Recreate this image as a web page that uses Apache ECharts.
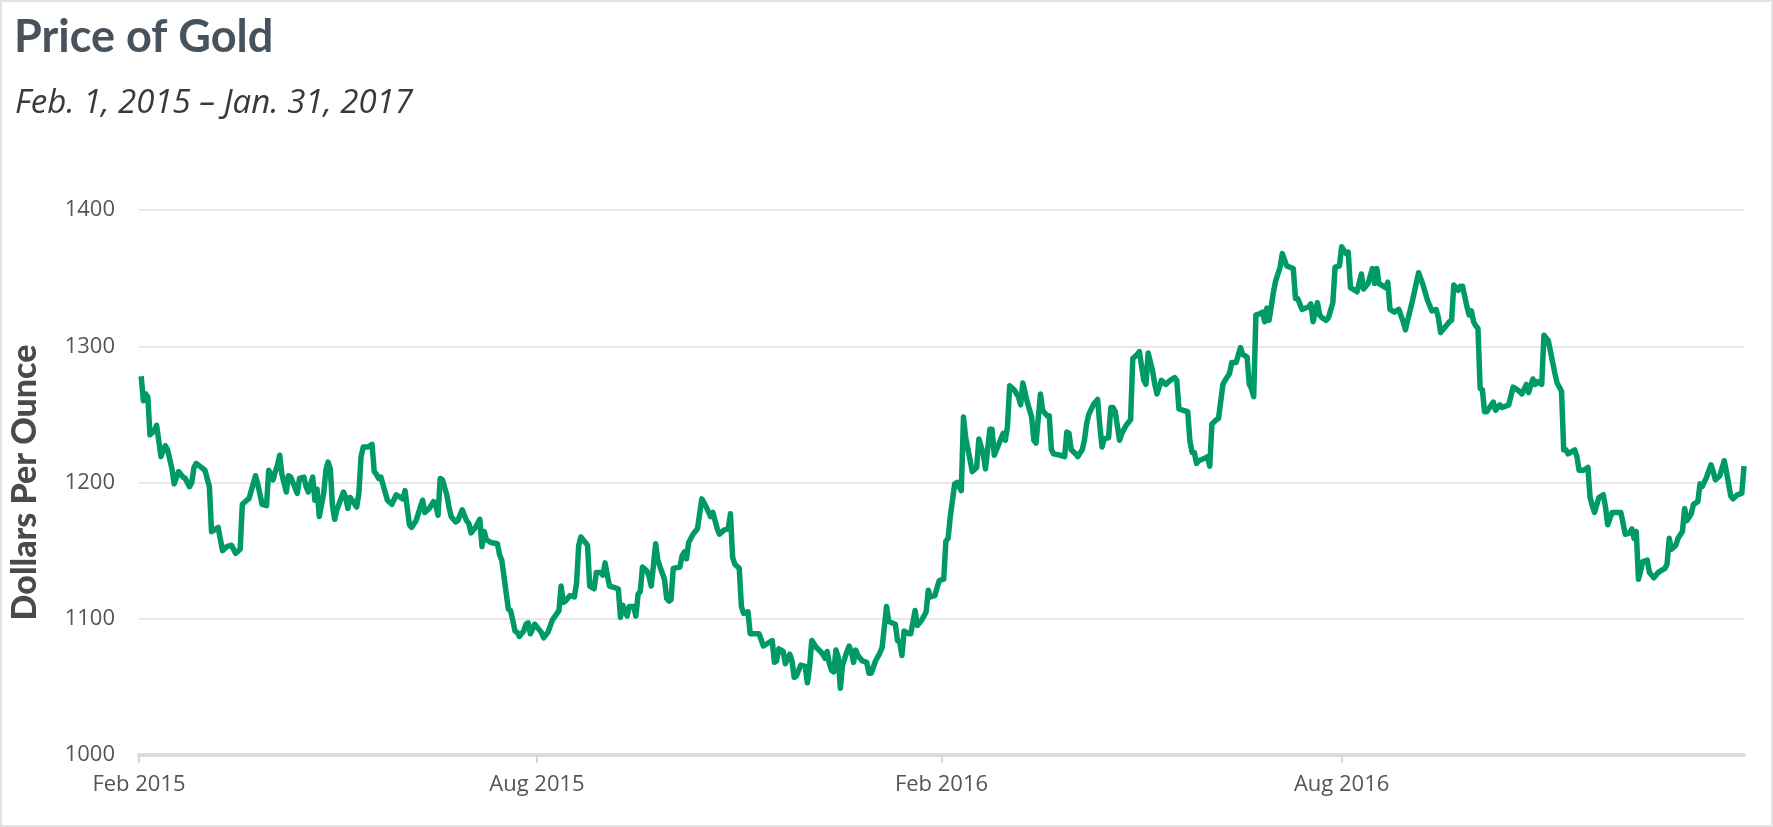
<!DOCTYPE html>
<html>
<head>
<meta charset="utf-8">
<title>Price of Gold</title>
<script src="https://cdn.jsdelivr.net/npm/echarts@6/dist/echarts.min.js"></script>
<style>
  html, body { margin: 0; padding: 0; background: #fff; }
  #wrap { position: relative; width: 1773px; height: 827px; }
  #chart { width: 1773px; height: 827px; }
  #frame { position: absolute; left: 0; top: 0; right: 0; bottom: 0; border: 2px solid #e2e2e2; pointer-events: none; }
</style>
</head>
<body>
<div id="wrap"><div id="chart"></div><div id="frame"></div></div>
<script>
// 金价数据，按半年分段（日期 / 美元每盎司）
var datesH1 = ['2015-02-02','2015-02-03','2015-02-04','2015-02-05','2015-02-06','2015-02-08','2015-02-09','2015-02-11','2015-02-12','2015-02-13',
  '2015-02-14','2015-02-16','2015-02-17','2015-02-19','2015-02-21','2015-02-22','2015-02-24','2015-02-25','2015-02-26','2015-02-27',
  '2015-03-03','2015-03-05','2015-03-06','2015-03-08','2015-03-09','2015-03-11','2015-03-13','2015-03-15','2015-03-17','2015-03-19',
  '2015-03-20','2015-03-22','2015-03-23','2015-03-26','2015-03-27','2015-03-29','2015-03-31','2015-04-01','2015-04-03','2015-04-04',
  '2015-04-05','2015-04-06','2015-04-07','2015-04-09','2015-04-10','2015-04-11','2015-04-12','2015-04-14','2015-04-15','2015-04-17',
  '2015-04-18','2015-04-19','2015-04-21','2015-04-22','2015-04-23','2015-04-24','2015-04-26','2015-04-27','2015-04-28','2015-04-29',
  '2015-04-30','2015-05-01','2015-05-02','2015-05-05','2015-05-06','2015-05-07','2015-05-08','2015-05-09','2015-05-11','2015-05-12',
  '2015-05-13','2015-05-14','2015-05-16','2015-05-18','2015-05-19','2015-05-20','2015-05-21','2015-05-22','2015-05-25','2015-05-27',
  '2015-05-29','2015-06-01','2015-06-02','2015-06-04','2015-06-05','2015-06-07','2015-06-08','2015-06-10','2015-06-11','2015-06-13',
  '2015-06-15','2015-06-16','2015-06-17','2015-06-18','2015-06-19','2015-06-21','2015-06-22','2015-06-23','2015-06-25','2015-06-26',
  '2015-06-28','2015-06-30','2015-07-01','2015-07-02','2015-07-04','2015-07-06','2015-07-07','2015-07-08','2015-07-09','2015-07-11',
  '2015-07-14','2015-07-15','2015-07-16','2015-07-19','2015-07-20','2015-07-21','2015-07-22','2015-07-23','2015-07-24','2015-07-26',
  '2015-07-27','2015-07-28','2015-07-29','2015-07-31'];
var pricesH1 = [1278,1260,1265,1263,1235,1238,1242,1219,1224,1227,
  1224,1210,1199,1208,1204,1203,1197,1200,1211,1214,
  1209,1197,1164,1166,1167,1150,1153,1154,1148,1151,
  1184,1187,1188,1205,1199,1184,1183,1209,1202,1208,
  1213,1220,1206,1193,1205,1204,1200,1192,1203,1204,
  1197,1193,1204,1187,1195,1175,1192,1209,1215,1210,
  1183,1173,1180,1193,1189,1181,1189,1187,1182,1192,
  1219,1226,1226,1228,1208,1206,1203,1204,1187,1184,
  1191,1188,1194,1169,1167,1172,1177,1187,1178,1181,
  1186,1183,1176,1203,1202,1191,1182,1175,1171,1172,
  1180,1172,1170,1163,1167,1173,1153,1164,1158,1156,
  1155,1147,1143,1107,1106,1099,1091,1090,1087,1091,
  1096,1097,1089,1096];

var datesH2 = ['2015-08-01','2015-08-03','2015-08-04','2015-08-06','2015-08-08','2015-08-11','2015-08-12','2015-08-13','2015-08-14','2015-08-16',
  '2015-08-18','2015-08-19','2015-08-20','2015-08-21','2015-08-23','2015-08-24','2015-08-25','2015-08-27','2015-08-28','2015-08-30',
  '2015-08-31','2015-09-01','2015-09-02','2015-09-03','2015-09-05','2015-09-07','2015-09-08','2015-09-09','2015-09-11','2015-09-12',
  '2015-09-14','2015-09-15','2015-09-16','2015-09-17','2015-09-18','2015-09-20','2015-09-21','2015-09-22','2015-09-24','2015-09-25',
  '2015-09-26','2015-09-28','2015-09-29','2015-09-30','2015-10-01','2015-10-02','2015-10-05','2015-10-06','2015-10-07','2015-10-08',
  '2015-10-09','2015-10-11','2015-10-13','2015-10-15','2015-10-17','2015-10-19','2015-10-20','2015-10-22','2015-10-23','2015-10-25',
  '2015-10-27','2015-10-28','2015-10-29','2015-10-30','2015-11-01','2015-11-02','2015-11-03','2015-11-05','2015-11-06','2015-11-08',
  '2015-11-10','2015-11-12','2015-11-14','2015-11-16','2015-11-17','2015-11-18','2015-11-19','2015-11-21','2015-11-22','2015-11-24',
  '2015-11-25','2015-11-26','2015-11-27','2015-11-29','2015-12-01','2015-12-02','2015-12-03','2015-12-04','2015-12-06','2015-12-08',
  '2015-12-09','2015-12-10','2015-12-11','2015-12-12','2015-12-13','2015-12-14','2015-12-15','2015-12-16','2015-12-17','2015-12-18',
  '2015-12-20','2015-12-21','2015-12-22','2015-12-23','2015-12-24','2015-12-25','2015-12-27','2015-12-29','2015-12-30','2015-12-31',
  '2016-01-02','2016-01-04','2016-01-05','2016-01-07','2016-01-08','2016-01-11','2016-01-12','2016-01-13','2016-01-14','2016-01-15',
  '2016-01-17','2016-01-18','2016-01-20','2016-01-21','2016-01-23','2016-01-25','2016-01-26','2016-01-27','2016-01-29','2016-01-30',
  '2016-01-31'];
var pricesH2 = [1094,1090,1086,1090,1099,1106,1124,1112,1113,1117,
  1116,1126,1154,1160,1156,1154,1124,1122,1134,1134,
  1132,1141,1132,1124,1123,1122,1101,1110,1102,1109,
  1109,1102,1118,1120,1138,1135,1131,1124,1155,1143,
  1138,1129,1115,1113,1114,1137,1138,1146,1149,1144,
  1156,1162,1166,1188,1182,1175,1178,1166,1162,1165,
  1166,1177,1145,1140,1137,1109,1104,1105,1089,1089,
  1089,1080,1082,1084,1068,1069,1078,1076,1067,1074,
  1069,1057,1058,1066,1065,1053,1065,1084,1079,1076,
  1074,1071,1076,1067,1062,1061,1077,1072,1049,1066,
  1076,1080,1076,1068,1077,1073,1069,1068,1060,1060,
  1069,1075,1079,1109,1098,1096,1084,1083,1073,1091,
  1089,1089,1106,1095,1099,1105,1121,1116,1117,1123,
  1128];

var datesH3 = ['2016-02-02','2016-02-03','2016-02-04','2016-02-05','2016-02-07','2016-02-08','2016-02-10','2016-02-11','2016-02-12','2016-02-15',
  '2016-02-17','2016-02-18','2016-02-20','2016-02-21','2016-02-23','2016-02-24','2016-02-25','2016-02-27','2016-02-29','2016-03-01',
  '2016-03-02','2016-03-03','2016-03-05','2016-03-07','2016-03-08','2016-03-09','2016-03-11','2016-03-13','2016-03-14','2016-03-15',
  '2016-03-17','2016-03-18','2016-03-20','2016-03-21','2016-03-22','2016-03-23','2016-03-26','2016-03-28','2016-03-29','2016-03-30',
  '2016-03-31','2016-04-02','2016-04-03','2016-04-05','2016-04-06','2016-04-07','2016-04-08','2016-04-10','2016-04-12','2016-04-13',
  '2016-04-14','2016-04-15','2016-04-17','2016-04-18','2016-04-19','2016-04-20','2016-04-22','2016-04-23','2016-04-25','2016-04-27',
  '2016-04-28','2016-04-30','2016-05-01','2016-05-03','2016-05-04','2016-05-05','2016-05-07','2016-05-08','2016-05-09','2016-05-11',
  '2016-05-13','2016-05-15','2016-05-17','2016-05-18','2016-05-19','2016-05-21','2016-05-23','2016-05-24','2016-05-25','2016-05-26',
  '2016-05-27','2016-05-28','2016-05-31','2016-06-01','2016-06-02','2016-06-03','2016-06-05','2016-06-06','2016-06-08','2016-06-09',
  '2016-06-11','2016-06-12','2016-06-14','2016-06-16','2016-06-17','2016-06-19','2016-06-20','2016-06-21','2016-06-22','2016-06-23',
  '2016-06-25','2016-06-26','2016-06-27','2016-06-28','2016-06-29','2016-07-01','2016-07-02','2016-07-04','2016-07-05','2016-07-07',
  '2016-07-10','2016-07-11','2016-07-12','2016-07-14','2016-07-17','2016-07-18','2016-07-19','2016-07-21','2016-07-22','2016-07-23',
  '2016-07-25','2016-07-26','2016-07-28','2016-07-29','2016-07-31'];
var pricesH3 = [1129,1157,1159,1175,1199,1200,1194,1248,1233,1208,
  1211,1232,1221,1210,1239,1239,1220,1228,1236,1231,
  1241,1271,1268,1263,1257,1273,1259,1248,1231,1229,
  1265,1253,1249,1249,1224,1221,1220,1219,1237,1236,
  1224,1221,1219,1224,1231,1243,1250,1257,1261,1242,
  1226,1232,1233,1255,1255,1252,1231,1236,1242,1246,
  1291,1294,1296,1275,1272,1295,1282,1272,1265,1275,
  1272,1275,1277,1275,1254,1253,1252,1230,1222,1222,
  1214,1216,1218,1219,1212,1243,1246,1247,1272,1275,
  1280,1288,1288,1299,1294,1292,1272,1269,1263,1323,
  1324,1325,1318,1328,1319,1340,1348,1358,1368,1359,
  1357,1335,1335,1327,1329,1331,1318,1332,1323,1321,
  1319,1321,1332,1358,1359];

var datesH4 = ['2016-08-01','2016-08-03','2016-08-04','2016-08-05','2016-08-08','2016-08-10','2016-08-11','2016-08-13','2016-08-15','2016-08-16',
  '2016-08-17','2016-08-18','2016-08-21','2016-08-22','2016-08-23','2016-08-25','2016-08-27','2016-08-29','2016-08-30','2016-08-31',
  '2016-09-02','2016-09-05','2016-09-07','2016-09-09','2016-09-11','2016-09-13','2016-09-14','2016-09-15','2016-09-17','2016-09-19',
  '2016-09-20','2016-09-21','2016-09-23','2016-09-24','2016-09-25','2016-09-27','2016-09-28','2016-09-29','2016-09-30','2016-10-01',
  '2016-10-02','2016-10-03','2016-10-04','2016-10-05','2016-10-06','2016-10-09','2016-10-10','2016-10-12','2016-10-13','2016-10-16',
  '2016-10-18','2016-10-20','2016-10-22','2016-10-24','2016-10-25','2016-10-27','2016-10-28','2016-10-29','2016-10-31','2016-11-01',
  '2016-11-03','2016-11-06','2016-11-07','2016-11-09','2016-11-10','2016-11-11','2016-11-12','2016-11-15','2016-11-16','2016-11-17',
  '2016-11-19','2016-11-21','2016-11-22','2016-11-23','2016-11-24','2016-11-26','2016-11-28','2016-11-29','2016-11-30','2016-12-02',
  '2016-12-04','2016-12-06','2016-12-08','2016-12-10','2016-12-11','2016-12-12','2016-12-13','2016-12-14','2016-12-16','2016-12-18',
  '2016-12-19','2016-12-21','2016-12-23','2016-12-26','2016-12-27','2016-12-28','2016-12-29','2016-12-31','2017-01-01','2017-01-03',
  '2017-01-04','2017-01-05','2017-01-07','2017-01-08','2017-01-10','2017-01-11','2017-01-12','2017-01-14','2017-01-16','2017-01-17',
  '2017-01-18','2017-01-20','2017-01-22','2017-01-23','2017-01-25','2017-01-26','2017-01-28','2017-01-30','2017-01-31'];
var pricesH4 = [1373,1368,1369,1343,1340,1353,1342,1346,1357,1346,
  1357,1346,1343,1347,1327,1325,1327,1318,1312,1319,
  1332,1354,1345,1334,1326,1327,1321,1310,1314,1318,
  1319,1345,1341,1344,1344,1329,1323,1326,1318,1315,
  1313,1269,1268,1252,1252,1259,1253,1257,1255,1257,
  1270,1268,1265,1272,1266,1276,1272,1274,1272,1308,
  1304,1280,1273,1267,1224,1224,1221,1224,1219,1209,
  1209,1211,1189,1183,1178,1189,1191,1182,1169,1178,
  1178,1178,1162,1163,1166,1159,1164,1129,1142,1143,
  1134,1130,1134,1137,1140,1159,1151,1154,1159,1164,
  1181,1172,1177,1184,1186,1199,1197,1204,1213,1208,
  1202,1205,1216,1208,1190,1188,1191,1192,1212];

// 横轴刻度
var tickDates = ['2015-02-01', '2015-08-01', '2016-02-01', '2016-08-01'];
var tickLabels = ['Feb 2015', 'Aug 2015', 'Feb 2016', 'Aug 2016'];
var yTicks = [1000, 1100, 1200, 1300, 1400];

function toTime(s) {
    var p = s.split('-');
    return new Date(+p[0], +p[1] - 1, +p[2]).getTime();
}

var dates = datesH1.concat(datesH2, datesH3, datesH4);
var prices = pricesH1.concat(pricesH2, pricesH3, pricesH4);
var seriesData = dates.map(function (d, i) { return [toTime(d), prices[i]]; });
var tickTimes = tickDates.map(toTime);

var goldChart = echarts.init(document.getElementById('chart'), null, { renderer: 'canvas' });

var goldOption = {
    animation: false,
    backgroundColor: '#fff',
    title: [
        {
            text: 'Price of Gold',
            left: 9,
            top: 10,
            textStyle: { fontFamily: 'Lato', fontWeight: 'bold', fontSize: 45, color: '#47525c' }
        },
        {
            text: 'Feb. 1, 2015 \u2013 Jan. 31, 2017',
            left: 10,
            top: 82,
            textStyle: { fontFamily: 'Open Sans', fontStyle: 'italic', fontWeight: 'normal', fontSize: 33, color: '#3a3a3a' }
        }
    ],
    grid: { left: 139, right: 29, top: 210, bottom: 72, containLabel: false, outerBoundsMode: 'none' },
    // 时间用数值轴表示，刻度只放在 2 月和 8 月
    xAxis: {
        type: 'value',
        min: toTime('2015-02-01'),
        max: toTime('2017-01-31'),
        axisLine: { show: true, onZero: false, lineStyle: { color: '#dcdcdc', width: 4 } },
        axisTick: { show: true, length: 8, lineStyle: { color: '#d6d6d6', width: 2 }, customValues: tickTimes },
        axisLabel: {
            customValues: tickTimes,
            margin: 19,
            fontFamily: 'Open Sans',
            fontSize: 22,
            color: '#555',
            formatter: function (v) {
                var i = tickTimes.indexOf(v);
                return i >= 0 ? tickLabels[i] : '';
            }
        },
        splitLine: { show: false }
    },
    yAxis: {
        type: 'value',
        min: yTicks[0],
        max: yTicks[yTicks.length - 1],
        interval: 100,
        name: 'Dollars Per Ounce',
        nameLocation: 'middle',
        nameGap: 97,
        nameTextStyle: { fontFamily: 'Lato', fontWeight: 900, fontSize: 34, color: '#4a4a4a' },
        axisLine: { show: false },
        axisTick: { show: false },
        axisLabel: {
            margin: 24,
            fontFamily: 'Open Sans',
            fontSize: 22,
            color: '#555',
            formatter: function (v) { return String(v); }
        },
        splitLine: { lineStyle: { color: '#e0e0e0', width: 1.5 } }
    },
    series: [
        {
            name: 'Gold',
            type: 'line',
            data: seriesData,
            showSymbol: false,
            symbol: 'none',
            smooth: false,
            lineStyle: { color: '#009b65', width: 5.5, join: 'round' }
        }
    ]
};

// 渲染
goldChart.setOption(goldOption);
window.addEventListener('resize', function () {
    goldChart.resize();
});
</script>
</body>
</html>
